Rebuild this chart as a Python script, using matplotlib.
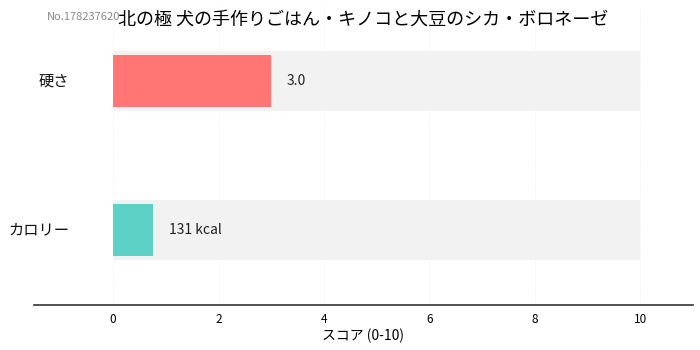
import matplotlib
matplotlib.use('Agg')
import matplotlib.pyplot as plt

plt.rcParams['font.family'] = ['Noto Sans CJK JP', 'DejaVu Sans']

# data
title = '北の極 犬の手作りごはん・キノコと大豆のシカ・ボロネーゼ'
item_id = 'No.178237620'
categories = ['硬さ', 'カロリー']
scores = [3.0, 0.76]
value_labels = ['3.0', '131 kcal']
colors = ['#FF7675', '#5ED1C6']
max_score = 10
ticks = [0, 2, 4, 6, 8, 10]

fig = plt.figure(figsize=(7, 3.5), dpi=100)
ax = fig.add_axes([34 / 700, 45 / 350, 659 / 700, 299 / 350])

ypos = [1, 0]
for y, s, c, lab, cat in zip(ypos, scores, colors, value_labels, categories):
    ax.barh(y, max_score, height=0.4, color='#F2F2F2', zorder=1)
    ax.barh(y, s, height=0.35, color=c, zorder=2)
    ax.text(s + 0.3, y, lab, va='center', ha='left', fontsize=10, color='#222222', zorder=3)
    ax.text(-0.83, y, cat, va='center', ha='right', fontsize=11, color='#111111')

ax.set_xlim(-1.5, 11)
ax.set_ylim(-0.5, 1.5)
ax.set_yticks([])
ax.set_xticks(ticks)
ax.tick_params(axis='x', length=0, labelsize=8.5, pad=6)
ax.set_xlabel('スコア (0-10)', fontsize=10, labelpad=2)
ax.grid(axis='x', color='#DDDDDD', linestyle=':', linewidth=0.6, alpha=0.5, zorder=0)
ax.set_axisbelow(True)
for side in ['top', 'right', 'left']:
    ax.spines[side].set_visible(False)
ax.spines['bottom'].set_color('#333333')
ax.spines['bottom'].set_linewidth(1.2)

fig.text(363 / 700, 1 - 20 / 350, title, ha='center', va='center', fontsize=13)
fig.text(47 / 700, 1 - 17 / 350, item_id, ha='left', va='center', fontsize=8, color='#888888')

fig.savefig('out.png', dpi=100)
